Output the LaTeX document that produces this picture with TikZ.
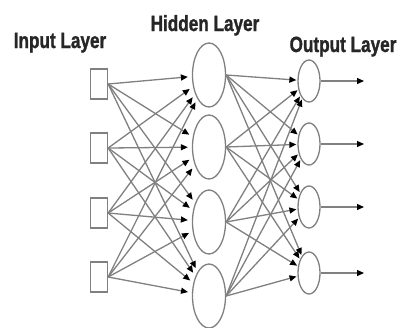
\documentclass[tikz,border=0pt]{standalone}
\usepackage{fontspec}
\newfontfamily\lab{Liberation Sans}[FakeStretch=0.78,FakeBold=1.2]
\usetikzlibrary{arrows.meta,shapes.geometric}
\begin{document}
\begin{tikzpicture}[x=1pt,y=-1pt,
  inbox/.style={draw=black!50, line width=1.3pt, minimum width=17pt, minimum height=30pt, inner sep=0pt},
  hid/.style={ellipse, draw=black!50, line width=1.3pt, minimum width=33pt, minimum height=64pt, inner sep=0pt},
  outn/.style={ellipse, draw=black!50, line width=1.3pt, minimum width=22pt, minimum height=42pt, inner sep=0pt},
  conn/.style={draw=black!50, line width=1.3pt, -{Triangle[black,length=7pt,width=6pt]}},
  title/.style={font=\lab\bfseries\fontsize{22}{24}\selectfont, text=black!85, anchor=base, inner sep=0pt}
]
\path[fill=white, use as bounding box] (0,0) rectangle (403,327);

\node[title] (tin) at (60,48) {Input Layer};
\node[title] (thid) at (205,31) {Hidden Layer};
\node[title] (tout) at (343,52) {Output Layer};

\foreach \i/\y in {1/84,2/148,3/213,4/277}{
  \node[inbox] (i\i) at (99,\y) {};
}
\foreach \j/\y in {1/75,2/147,3/222,4/296}{
  \node[hid] (h\j) at (209,\y) {};
}
\foreach \k/\y in {1/81,2/144,3/207,4/273}{
  \node[outn] (o\k) at (309,\y) {};
  \coordinate (e\k) at (364,\y);
}

\foreach \i in {1,...,4}{
  \foreach \j in {1,...,4}{
    \draw[conn, shorten >=4pt] (i\i.east) -- (h\j);
  }
}
\foreach \j in {1,...,4}{
  \foreach \k in {1,...,4}{
    \draw[conn, shorten >=1pt] (h\j.east) -- (o\k);
  }
}
\foreach \k in {1,...,4}{
  \draw[conn] (o\k.east) -- (e\k);
}
\end{tikzpicture}
\end{document}
